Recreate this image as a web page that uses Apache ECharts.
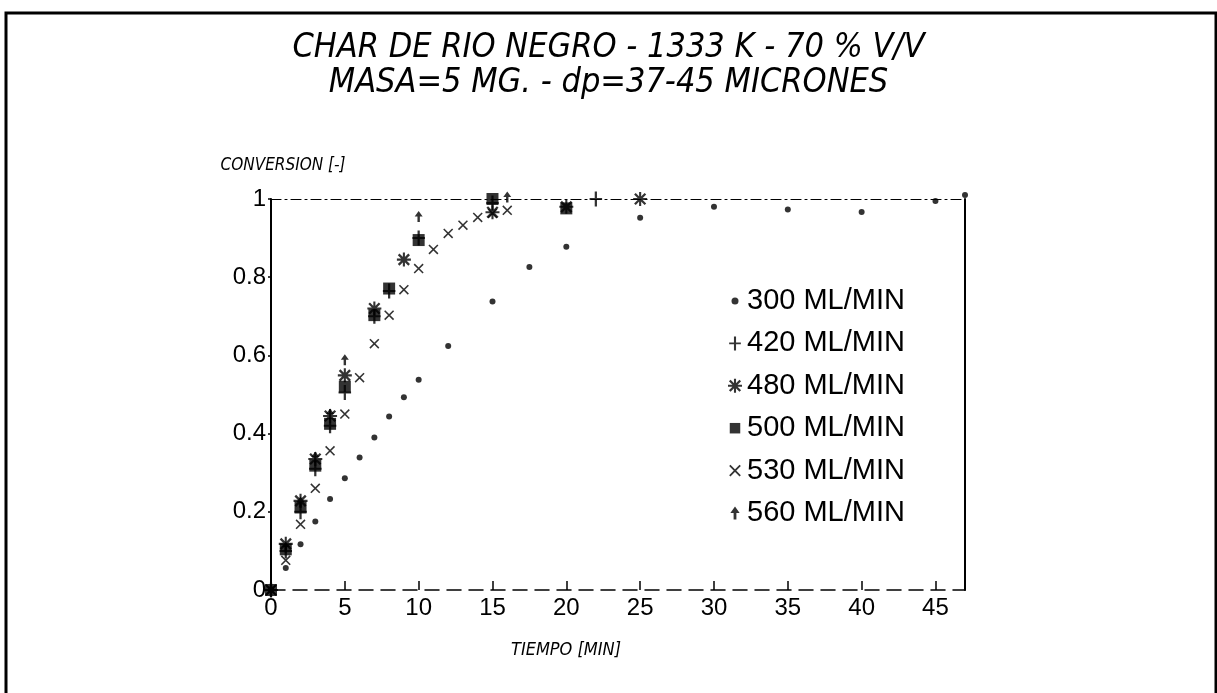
<!DOCTYPE html>
<html>
<head>
<meta charset="utf-8">
<script src="https://cdn.jsdelivr.net/npm/echarts@6/dist/echarts.min.js"></script>
<style>
  html, body { margin: 0; padding: 0; background: #fff; }
  #chart { width: 1217px; height: 693px; }
</style>
</head>
<body>
<div id="chart"></div>
<script>
// Gasification runs: conversion vs time for each gas flow rate
const seriesNames = ['300 ML/MIN', '420 ML/MIN', '480 ML/MIN', '500 ML/MIN', '530 ML/MIN', '560 ML/MIN'];

const time300 = [0, 1, 2, 3, 4, 5, 6, 7, 8, 9, 10, 12, 15, 17.5, 20, 25, 30, 35, 40, 45, 47];
const conv300 = [0, 0.056, 0.117, 0.175, 0.233, 0.286, 0.339, 0.39, 0.444, 0.493, 0.538, 0.624, 0.738, 0.826, 0.878, 0.952, 0.98, 0.973, 0.967, 0.995, 1.01];

const time420 = [0, 1, 2, 3, 4, 5, 7, 8, 10, 15, 22];
const conv420 = [0, 0.1, 0.2, 0.31, 0.42, 0.505, 0.7, 0.765, 0.9, 0.99, 1.0];

const time480 = [0, 1, 2, 3, 4, 5, 7, 9, 15, 20, 25];
const conv480 = [0, 0.118, 0.228, 0.335, 0.445, 0.549, 0.72, 0.845, 0.966, 0.98, 1.0];

const time500 = [0, 1, 2, 3, 4, 5, 7, 8, 10, 15, 20];
const conv500 = [0, 0.104, 0.211, 0.318, 0.425, 0.52, 0.703, 0.771, 0.895, 1.0, 0.976];

const time530 = [0, 1, 2, 3, 4, 5, 6, 7, 8, 9, 10, 11, 12, 13, 14, 15, 16];
const conv530 = [0, 0.076, 0.168, 0.26, 0.356, 0.45, 0.543, 0.63, 0.703, 0.768, 0.822, 0.871, 0.912, 0.933, 0.953, 0.963, 0.971];

const time560 = [0, 1, 2, 3, 4, 5, 10, 16];
const conv560 = [0, 0.11, 0.225, 0.34, 0.45, 0.589, 0.955, 1.005];

const xTicks = [0, 5, 10, 15, 20, 25, 30, 35, 40, 45];

// Marker outlines; each path spans a 12x12 box so sizes stay consistent
const SYM_DOT = 'path://M0,0M12,12M9,6A3,3,0,1,1,3,6A3,3,0,1,1,9,6Z';
const SYM_PLUS = 'path://M0,0M12,12M5.1,0H6.9V12H5.1Z M1,5.2H11V6.8H1Z';
const SYM_STAR = 'path://M5.1,0H6.9V12H5.1Z M0,5.1H12V6.9H0Z M0.8,2.2L2.2,0.8L11.2,9.8L9.8,11.2Z M9.8,0.8L11.2,2.2L2.2,11.2L0.8,9.8Z';
const SYM_SQUARE = 'path://M0,0M12,12M1.5,1.5H10.5V10.5H1.5Z';
const SYM_CROSS = 'path://M0,0M12,12M1,2.1L2.1,1L11,9.9L9.9,11Z M9.9,1L11,2.1L2.1,11L1,9.9Z';
const SYM_ARROW = 'path://M0,0M12,12M6,0.5L10,6H7.2V11.5H4.8V6H2Z';

function pairs(xs, ys) {
  return xs.map((x, i) => [x, ys[i]]);
}

const runs = [
  { name: seriesNames[0], t: time300, c: conv300, symbol: SYM_DOT, size: 12 },
  { name: seriesNames[1], t: time420, c: conv420, symbol: SYM_PLUS, size: 15 },
  { name: seriesNames[2], t: time480, c: conv480, symbol: SYM_STAR, size: 14 },
  { name: seriesNames[3], t: time500, c: conv500, symbol: SYM_SQUARE, size: 16 },
  { name: seriesNames[4], t: time530, c: conv530, symbol: SYM_CROSS, size: 12 },
  { name: seriesNames[5], t: time560, c: conv560, symbol: SYM_ARROW, size: 12 }
];

const NARROW = '"Liberation Sans Narrow", "DejaVu Sans Condensed", "Liberation Sans", sans-serif';
const SANS = '"Liberation Sans", Arial, sans-serif';

const chart = echarts.init(document.getElementById('chart'), null, { renderer: 'canvas' });

chart.setOption({
  backgroundColor: '#ffffff',
  animation: false,
  title: {
    text: 'CHAR DE RIO NEGRO - 1333 K - 70 % V/V\nMASA=5 MG. - dp=37-45 MICRONES',
    left: 'center',
    top: 26,
    textStyle: {
      fontFamily: NARROW,
      fontStyle: 'italic',
      fontWeight: 'normal',
      fontSize: 34,
      lineHeight: 35,
      color: '#000'
    }
  },
  graphic: [
    {
      type: 'rect',
      shape: { x: 6, y: 13, width: 1210, height: 700 },
      style: { fill: 'none', stroke: '#000', lineWidth: 3 },
      silent: true
    }
  ],
  legend: {
    orient: 'vertical',
    left: 723,
    top: 281,
    itemWidth: 14,
    itemHeight: 14,
    itemGap: 12.4,
    data: seriesNames,
    textStyle: {
      fontFamily: SANS,
      fontSize: 29,
      lineHeight: 30,
      color: '#000'
    }
  },
  grid: {
    left: 271,
    right: 252,
    top: 199,
    bottom: 103,
    containLabel: false
  },
  xAxis: [
    {
      type: 'value',
      min: 0,
      max: 47,
      interval: 5,
      position: 'bottom',
      name: 'TIEMPO [MIN]',
      nameLocation: 'middle',
      nameGap: 51,
      nameTextStyle: {
        fontFamily: NARROW,
        fontStyle: 'italic',
        fontSize: 18,
        color: '#000',
        padding: [0, 104, 0, 0]
      },
      axisLine: { show: true, onZero: false, lineStyle: { color: '#000', width: 1.5, type: [14, 8] } },
      axisTick: { show: true, inside: true, length: 9, lineStyle: { color: '#000', width: 1.5 } },
      axisLabel: {
        showMaxLabel: false,
        margin: 6,
        fontFamily: SANS,
        fontSize: 24,
        color: '#000',
        formatter: function (v) { return xTicks.indexOf(v) >= 0 ? String(v) : ''; }
      },
      splitLine: { show: false }
    },
    {
      type: 'value',
      min: 0,
      max: 47,
      position: 'top',
      axisLine: { show: true, onZero: false, lineStyle: { color: '#000', width: 1.2, type: [10, 4, 2, 4] } },
      axisTick: { show: false },
      axisLabel: { show: false },
      splitLine: { show: false }
    }
  ],
  yAxis: [
    {
      type: 'value',
      min: 0,
      max: 1,
      interval: 0.2,
      position: 'left',
      name: 'CONVERSION [-]',
      nameLocation: 'end',
      nameGap: 25,
      nameTextStyle: {
        fontFamily: NARROW,
        fontStyle: 'italic',
        fontSize: 17,
        color: '#000',
        padding: [0, 0, 0, 24]
      },
      axisLine: { show: true, onZero: false, lineStyle: { color: '#000', width: 2 } },
      axisTick: { show: true, inside: false, length: 3, lineStyle: { color: '#000', width: 1.5 } },
      axisLabel: {
        margin: 5,
        fontFamily: SANS,
        fontSize: 24,
        color: '#000'
      },
      splitLine: { show: false }
    },
    {
      type: 'value',
      min: 0,
      max: 1,
      position: 'right',
      axisLine: { show: true, onZero: false, lineStyle: { color: '#000', width: 2 } },
      axisTick: { show: false },
      axisLabel: { show: false },
      splitLine: { show: false }
    }
  ],
  series: runs.map(r => ({
    name: r.name,
    type: 'scatter',
    xAxisIndex: 0,
    yAxisIndex: 0,
    symbol: r.symbol,
    symbolSize: r.size,
    itemStyle: { color: '#000' },
    clip: false,
    data: pairs(r.t, r.c)
  }))
});
</script>
</body>
</html>
